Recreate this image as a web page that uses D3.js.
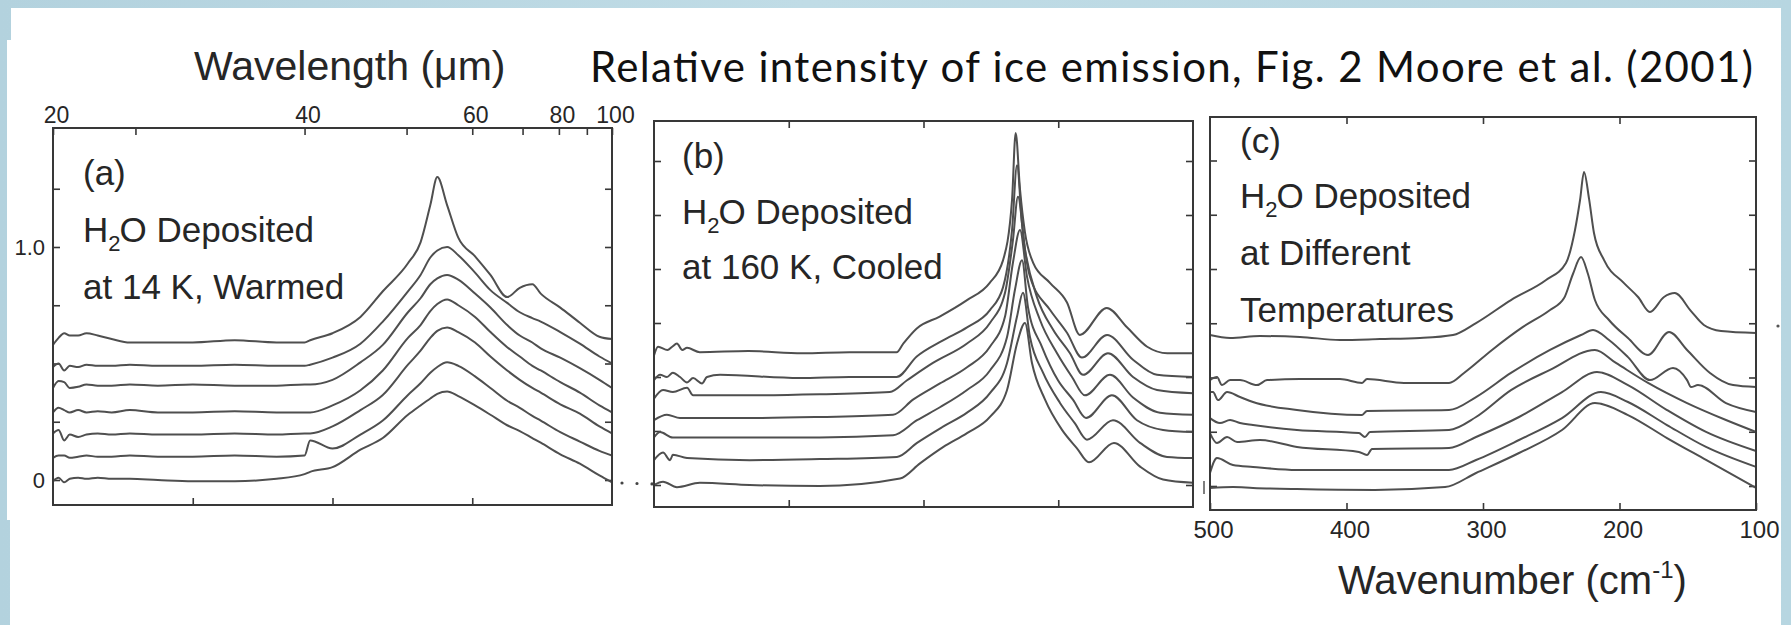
<!DOCTYPE html>
<html>
<head>
<meta charset="utf-8">
<script src="https://cdn.jsdelivr.net/npm/d3@7"></script>
<style>
  body { margin: 0; background: #fff; }
</style>
</head>
<body>
<div id="chart"></div>
<script>
// ---- axis ticks / labels ----
const wavenumberTicks = [500, 400, 300, 200, 100];
const innerWavenumberTicks = [400, 300, 200];
const intensityTicks = [0, 0.25, 0.5, 0.75, 1.0, 1.25, 1.5];
const intensityLabels = [0, 1.0];
// wavelength ticks the slide put on top of panel (a), and the wavenumber they sit over
const wavelengthTicks = [20, 30, 40, 50, 60, 70, 80, 90, 100];
const wavelengthLabels = [20, 40, 60, 80, 100];
const wavelengthAt = [500, 441, 320, 247, 200, 164, 138, 118, 100];

// ---- panel (a): H2O deposited at 14 K, warmed (shared wavenumber grid) ----
const nuA = [500, 496, 492, 488, 482, 476, 468, 458, 445, 425, 400, 370, 340, 320, 316, 300, 280, 264, 246, 237,
             230, 225, 218, 210, 198, 187, 175, 166, 157, 151, 137, 123, 109, 100];
const a1 = [0.58, 0.61, 0.63, 0.62, 0.62, 0.63, 0.62, 0.605, 0.59, 0.59, 0.59, 0.60, 0.59, 0.59, 0.60, 0.63, 0.70, 0.81, 0.93, 1.02,
            1.18, 1.30, 1.18, 1.04, 0.96, 0.88, 0.785, 0.825, 0.84, 0.80, 0.74, 0.675, 0.615, 0.605];
const a2 = [0.485, 0.50, 0.47, 0.49, 0.485, 0.495, 0.49, 0.49, 0.495, 0.49, 0.49, 0.495, 0.49, 0.49, 0.495, 0.525, 0.585, 0.68, 0.81, 0.88,
            0.955, 0.985, 1.0, 0.965, 0.89, 0.815, 0.76, 0.72, 0.695, 0.68, 0.635, 0.585, 0.53, 0.50];
const a3 = [0.395, 0.425, 0.42, 0.395, 0.40, 0.41, 0.405, 0.405, 0.41, 0.405, 0.41, 0.405, 0.405, 0.41, 0.41, 0.43, 0.505, 0.58, 0.72, 0.78,
            0.84, 0.865, 0.88, 0.86, 0.80, 0.74, 0.665, 0.62, 0.59, 0.565, 0.525, 0.48, 0.43, 0.395];
const a4 = [0.29, 0.31, 0.30, 0.29, 0.30, 0.29, 0.295, 0.29, 0.30, 0.29, 0.29, 0.295, 0.29, 0.29, 0.29, 0.32, 0.385, 0.47, 0.61, 0.665,
            0.725, 0.755, 0.775, 0.75, 0.70, 0.635, 0.57, 0.53, 0.49, 0.47, 0.42, 0.375, 0.32, 0.29];
const a5 = [0.20, 0.215, 0.17, 0.195, 0.185, 0.195, 0.20, 0.195, 0.20, 0.195, 0.195, 0.20, 0.195, 0.20, 0.20, 0.23, 0.30, 0.365, 0.495, 0.555,
            0.61, 0.64, 0.655, 0.635, 0.59, 0.53, 0.47, 0.43, 0.395, 0.375, 0.325, 0.285, 0.23, 0.20];
const a6 = [0.095, 0.105, 0.105, 0.095, 0.10, 0.105, 0.10, 0.10, 0.105, 0.10, 0.10, 0.105, 0.10, 0.105, 0.17, 0.135, 0.195, 0.255, 0.365, 0.415,
            0.46, 0.485, 0.505, 0.49, 0.445, 0.395, 0.34, 0.31, 0.275, 0.255, 0.205, 0.165, 0.125, 0.105];
const a7 = [-0.005, 0.01, -0.01, 0.005, 0.01, 0.005, 0.01, 0.005, 0.005, 0, -0.005, -0.005, 0.005, 0.025, 0.035, 0.055, 0.13, 0.18, 0.28, 0.32,
            0.35, 0.37, 0.38, 0.36, 0.32, 0.28, 0.235, 0.21, 0.18, 0.16, 0.11, 0.07, 0.02, -0.01];

// ---- panel (b): deposited at 160 K, cooled  [wavenumber, intensity] ----
const b1 = [[500,0.60],[497,0.64],[490,0.625],[486.5,0.64],[483,0.655],[479,0.625],[475.5,0.635],[466,0.615],[430,0.62],[390,0.61],[355,0.615],
            [320,0.615],[315,0.655],[305,0.725],[288,0.78],[268,0.855],[251,0.935],[241,1.04],[234.3,1.32],[231.6,1.63],[228.4,1.37],
            [224.7,1.17],[218.7,1.03],[206,0.935],[193.5,0.845],[184,0.695],[164,0.82],[149,0.73],[134,0.64],[119,0.61],[100,0.61]];
const b2 = [[500,0.485],[495.5,0.51],[490.4,0.50],[486,0.52],[480.7,0.50],[475.5,0.475],[471,0.495],[464.4,0.47],[460.7,0.50],[451,0.51],
            [392,0.495],[355,0.50],[320,0.50],[305,0.595],[285.5,0.67],[267.7,0.73],[250.7,0.81],[241,0.915],[234.3,1.18],[230.6,1.48],
            [226.9,1.21],[221,0.965],[206,0.81],[193.5,0.705],[182.4,0.59],[163.8,0.695],[144.5,0.58],[126.7,0.51],[100,0.50]];
const b3 = [[500,0.40],[493.3,0.44],[486,0.43],[475.5,0.45],[471,0.415],[429,0.415],[377,0.42],[325,0.43],[312.2,0.485],[293,0.565],
            [267.7,0.655],[250.7,0.75],[239.5,0.89],[233.6,1.135],[229.9,1.335],[224.7,1.09],[215.8,0.87],[203.9,0.72],[191.3,0.61],
            [181.6,0.51],[163.1,0.61],[144.5,0.50],[126.7,0.44],[100,0.425]];
const b4 = [[500,0.30],[490.4,0.325],[480.7,0.31],[429,0.31],[377,0.315],[322.6,0.325],[307.8,0.395],[287.8,0.47],[267.7,0.545],[250.7,0.64],
            [239.5,0.78],[233.6,1.03],[228.4,1.18],[223.2,0.965],[213.6,0.765],[200.9,0.61],[189.8,0.50],[180.2,0.415],[161.6,0.51],
            [144.5,0.405],[124.5,0.335],[100,0.325]];
const b5 = [[500,0.22],[495.5,0.245],[486,0.22],[429,0.22],[377,0.22],[322.6,0.23],[304.8,0.30],[287.8,0.36],[267.7,0.44],[250.7,0.53],
            [238,0.685],[232.1,0.905],[226.9,1.04],[222.5,0.825],[212.1,0.64],[200.2,0.485],[189.1,0.395],[179.4,0.31],[160.2,0.415],
            [141.6,0.30],[122.2,0.255],[100,0.245]];
const b6 = [[500,0.115],[493.3,0.15],[488.1,0.115],[486,0.14],[475.5,0.125],[429,0.115],[377,0.12],[319.7,0.13],[304.8,0.195],[285.5,0.27],
            [267.7,0.335],[250.7,0.425],[238,0.565],[230.6,0.78],[226.2,0.89],[221,0.685],[211.3,0.52],[198.7,0.38],[187.6,0.285],
            [178.7,0.21],[159.4,0.30],[139.3,0.195],[119.3,0.13],[100,0.125]];
const b7 = [[500,0],[493.3,0.015],[483,-0.01],[466,0.01],[429,0],[377,-0.005],[317.4,0.03],[302.6,0.10],[285.5,0.175],[267.7,0.24],
            [250.7,0.315],[238,0.44],[230.6,0.655],[224.7,0.75],[219.5,0.565],[209.8,0.395],[197.2,0.255],[186.1,0.17],[177.2,0.105],
            [158.7,0.195],[139.3,0.085],[122.2,0.025],[100,0.01]];

// ---- panel (c): deposited at different temperatures  [wavenumber, intensity] ----
const c1 = [[500,0.696],[485.3,0.682],[463.4,0.691],[434.1,0.687],[404.8,0.673],[375.5,0.677],[346.2,0.682],[322,0.696],[305.1,0.751],
            [279.5,0.857],[253.8,0.949],[239.2,1.028],[232.6,1.18],[228.9,1.318],[226,1.447],[222.3,1.323],[218.7,1.166],[211.3,1.041],
            [196.7,0.935],[186.4,0.871],[177.7,0.802],[167.4,0.871],[159.5,0.889],[147.6,0.806],[138.2,0.742],[125.6,0.714],[100,0.705]];
const c2 = [[500,0.488],[494.9,0.502],[491.2,0.465],[485.3,0.488],[478,0.488],[465.6,0.465],[458.2,0.488],[434.1,0.493],[404.8,0.493],
            [388.6,0.475],[385,0.493],[357.9,0.475],[324.9,0.475],[313.9,0.521],[293.4,0.627],[270.7,0.733],[250.9,0.811],[240.6,0.866],
            [234.1,0.977],[228.2,1.055],[223.1,0.977],[218,0.857],[207.7,0.765],[193.8,0.682],[179.1,0.604],[163.7,0.71],[150.5,0.627],
            [133.7,0.521],[116.8,0.465],[100,0.456]];
const c3 = [[500,0.433],[497.8,0.433],[494.1,0.396],[487.5,0.433],[478,0.41],[468.5,0.387],[436.3,0.35],[388.6,0.327],[385,0.346],
            [324.9,0.35],[305.1,0.41],[279.5,0.521],[250.9,0.627],[228.2,0.696],[219.4,0.719],[207.7,0.673],[193.8,0.594],[177.7,0.488],
            [160.8,0.544],[150.5,0.488],[147.6,0.456],[142.5,0.465],[122,0.382],[100,0.341]];
const c4 = [[500,0.313],[492.7,0.29],[485.3,0.304],[478,0.29],[468.5,0.281],[436.3,0.258],[390.9,0.244],[386.5,0.226],[382.8,0.249],
            [324.9,0.258],[305.1,0.318],[279.5,0.442],[250.9,0.535],[218,0.627],[202.6,0.567],[179.1,0.475],[150.5,0.382],[122,0.304],[100,0.249]];
const c5 = [[500,0.244],[494.9,0.198],[487.5,0.226],[480.2,0.203],[463.4,0.212],[436.3,0.18],[390.9,0.157],[385,0.143],[381.3,0.171],
            [324.9,0.175],[305.1,0.226],[273.6,0.318],[242.1,0.433],[216.5,0.525],[193.8,0.465],[165.2,0.35],[136.6,0.249],[100,0.161]];
const c6 = [[500,0.06],[494.9,0.129],[483.2,0.097],[468.5,0.088],[436.3,0.074],[390.1,0.074],[324.9,0.074],[305.1,0.12],[273.6,0.212],
            [242.1,0.313],[213.6,0.433],[193.8,0.387],[165.2,0.281],[136.6,0.18],[100,0.088]];
const c7 = [[500,-0.009],[483.2,-0.005],[468.5,-0.009],[436.3,-0.014],[379.1,-0.018],[327.8,-0.005],[305.1,0.06],[273.6,0.152],
            [242.1,0.258],[218,0.382],[193.8,0.327],[165.2,0.221],[136.6,0.12],[100,-0.009]];

const notesA = ['H2O Deposited', 'at 14 K, Warmed'];
const notesB = ['H2O Deposited', 'at 160 K, Cooled'];
const notesC = ['H2O Deposited', 'at Different', 'Temperatures'];

const curvesA = [a1, a2, a3, a4, a5, a6, a7].map(vals => vals.map((v, i) => [nuA[i], v]));

const W = 1791, H = 625;
const figFont = "'Liberation Sans', Arial, sans-serif";
const ink = '#262626';
const frameColor = '#383838';
const lineColor = '#4f4f4f';

const svg = d3.select('#chart').append('svg')
    .attr('width', W)
    .attr('height', H);

// slide backdrop
const grad = svg.append('defs').append('linearGradient').attr('id', 'sky');
grad.append('stop').attr('offset', '0%').attr('stop-color', '#b3d2de');
grad.append('stop').attr('offset', '45%').attr('stop-color', '#c0dce6');
grad.append('stop').attr('offset', '100%').attr('stop-color', '#b7d6e1');
svg.append('rect').attr('width', W).attr('height', H).attr('fill', 'url(#sky)');
svg.append('rect').attr('x', 11).attr('y', 8).attr('width', 1770).attr('height', 40).attr('fill', '#fff');
svg.append('rect').attr('x', 7).attr('y', 40).attr('width', 1774).attr('height', 480).attr('fill', '#fff');
svg.append('rect').attr('x', 10).attr('y', 518).attr('width', 1771).attr('height', 107).attr('fill', '#fff');

const panels = [
    { tag: '(a)', notes: notesA, curves: curvesA, left: 53, right: 612, top: 128, bottom: 505, zero: 480, one: 247, textX: 83, tagY: 185, gap: 57 },
    { tag: '(b)', notes: notesB, curves: [b1, b2, b3, b4, b5, b6, b7], left: 654, right: 1193, top: 121, bottom: 507, zero: 485, one: 269, textX: 682, tagY: 168, gap: 55.5 },
    { tag: '(c)', notes: notesC, curves: [c1, c2, c3, c4, c5, c6, c7], left: 1210, right: 1756, top: 117, bottom: 510, zero: 486, one: 269, textX: 1240, tagY: 153, gap: 57 }
];

const styleAxis = (sel, size, family) => {
    sel.select('.domain').remove();
    sel.attr('font-size', size).attr('font-family', family || figFont).style('color', ink);
    sel.selectAll('line').attr('stroke', frameColor).attr('stroke-width', 1.6);
};

panels.forEach((p, idx) => {
    const x = d3.scaleLinear().domain([500, 100]).range([p.left, p.right]);
    const y = d3.scaleLinear().domain([0, 1]).range([p.zero, p.one]);
    const g = svg.append('g');

    const yTicks = intensityTicks.filter(v => y(v) > p.top + 6);

    // left ticks (labels only on panel a)
    g.append('g')
        .attr('transform', `translate(${p.left},0)`)
        .call(d3.axisLeft(y).tickValues(yTicks).tickSize(-7).tickPadding(8)
            .tickFormat(d => idx === 0 && intensityLabels.includes(d) ? (d === 0 ? '0' : d3.format('.1f')(d)) : ''))
        .call(s => styleAxis(s, 22));

    // right ticks
    g.append('g')
        .attr('transform', `translate(${p.right},0)`)
        .call(d3.axisRight(y).tickValues(yTicks).tickSize(-7).tickFormat(''))
        .call(s => styleAxis(s, 22));

    // bottom ticks (labels only on panel c)
    if (idx === 2) {
        g.append('g')
            .attr('transform', `translate(0,${p.bottom})`)
            .call(d3.axisBottom(x).tickValues(wavenumberTicks).tickSize(-7).tickPadding(11))
            .call(s => styleAxis(s, 24, "'Liberation Sans Narrow', 'Liberation Sans', Arial, sans-serif"))
            .call(s => s.selectAll('text').attr('dx', 3));
    } else {
        g.append('g')
            .attr('transform', `translate(0,${p.bottom})`)
            .call(d3.axisBottom(x).tickValues(innerWavenumberTicks).tickSize(-7).tickFormat(''))
            .call(s => styleAxis(s, 22));
    }

    // top ticks: wavelength scale on panel a, wavenumber on b and c
    if (idx === 0) {
        const wl = d3.scaleLinear().domain(wavelengthTicks).range(wavelengthAt.map(x));
        g.append('g')
            .attr('transform', `translate(0,${p.top})`)
            .call(d3.axisTop(wl).tickValues(wavelengthTicks).tickSize(-7).tickPadding(5)
                .tickFormat(d => wavelengthLabels.includes(d) ? d : ''))
            .call(s => styleAxis(s, 23))
            .call(s => s.selectAll('text').attr('dx', 3));
    } else {
        g.append('g')
            .attr('transform', `translate(0,${p.top})`)
            .call(d3.axisTop(x).tickValues(innerWavenumberTicks).tickSize(-7).tickFormat(''))
            .call(s => styleAxis(s, 22));
    }

    // spectra
    const line = d3.line()
        .x(d => x(d[0]))
        .y(d => y(d[1]))
        .curve(d3.curveMonotoneX);
    g.selectAll('path.spec')
        .data(p.curves)
        .join('path')
        .attr('class', 'spec')
        .attr('d', line)
        .attr('fill', 'none')
        .attr('stroke', lineColor)
        .attr('stroke-width', 2)
        .attr('stroke-linejoin', 'round');

    // frame
    g.append('rect')
        .attr('x', p.left).attr('y', p.top)
        .attr('width', p.right - p.left).attr('height', p.bottom - p.top)
        .attr('fill', 'none')
        .attr('stroke', frameColor)
        .attr('stroke-width', 2);

    // panel annotations
    const txt = g.append('g').attr('font-family', figFont).attr('font-size', 35).attr('fill', ink);
    txt.append('text').attr('x', p.textX).attr('y', p.tagY).text(p.tag);
    p.notes.forEach((note, i) => {
        const t = txt.append('text').attr('x', p.textX).attr('y', p.tagY + (idx === 2 ? 55 : p.gap) + i * p.gap);
        if (note.startsWith('H2O')) {
            t.append('tspan').text('H');
            t.append('tspan').attr('font-size', 22).attr('dy', 9).text('2');
            t.append('tspan').attr('dy', -9).attr('dx', -1).text(note.slice(2));
        } else {
            t.text(note);
        }
    });
});

// dotted link between the panel (a) and (b) baselines
svg.append('line')
    .attr('x1', 622).attr('x2', 653).attr('y1', 483).attr('y2', 484)
    .attr('stroke', '#444').attr('stroke-width', 3.2)
    .attr('stroke-linecap', 'round').attr('stroke-dasharray', '0,15');
svg.append('line')
    .attr('x1', 1204).attr('x2', 1204).attr('y1', 481).attr('y2', 494)
    .attr('stroke', '#555').attr('stroke-width', 1.5);
svg.append('circle').attr('cx', 1778).attr('cy', 326).attr('r', 1.6).attr('fill', '#555');

// axis titles
svg.append('text')
    .attr('x', 194).attr('y', 80)
    .attr('font-family', figFont).attr('font-size', 41).attr('fill', ink)
    .text('Wavelength (μm)');

const wn = svg.append('text')
    .attr('x', 1338).attr('y', 594)
    .attr('font-family', figFont).attr('font-size', 40).attr('fill', ink);
wn.append('tspan').text('Wavenumber (cm');
wn.append('tspan').attr('font-size', 24).attr('dy', -16).text('-1');
wn.append('tspan').attr('dy', 16).text(')');

// slide title
svg.append('text')
    .attr('x', 590).attr('y', 82)
    .attr('font-family', "Lato, 'Open Sans', sans-serif").attr('font-size', 42).attr('fill', '#111')
    .attr('textLength', 1163).attr('lengthAdjust', 'spacing')
    .text('Relative intensity of ice emission, Fig. 2 Moore et al. (2001)');
</script>
</body>
</html>
